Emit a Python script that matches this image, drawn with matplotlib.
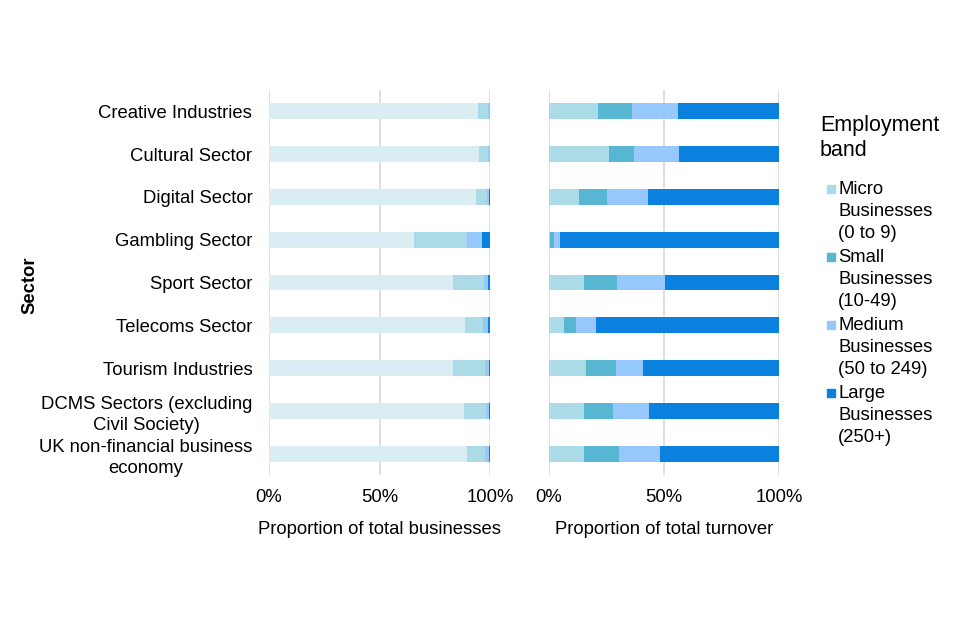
import matplotlib.pyplot as plt
import numpy as np
from matplotlib.patches import Rectangle

plt.rcParams['font.family'] = ['Liberation Sans', 'DejaVu Sans']

sectors = ["Creative Industries", "Cultural Sector", "Digital Sector",
           "Gambling Sector", "Sport Sector", "Telecoms Sector",
           "Tourism Industries", "DCMS Sectors (excluding\nCivil Society)",
           "UK non-financial business\neconomy"]
bands = ["Micro\nBusinesses\n(0 to 9)", "Small\nBusinesses\n(10-49)",
         "Medium\nBusinesses\n(50 to 249)", "Large\nBusinesses\n(250+)"]

# share of businesses (%), by band
biz_micro = [94.6, 95.2, 93.7, 65.4, 83.4, 88.6, 83.1, 88.3, 89.5]
biz_small = [4.5, 3.9, 4.8, 24.1, 13.9, 8.4, 14.5, 9.9, 8.4]
biz_medium = [0.7, 0.7, 1.2, 6.9, 1.8, 2.1, 1.8, 1.5, 1.5]
biz_large = [0.2, 0.2, 0.3, 3.6, 0.9, 0.9, 0.6, 0.3, 0.6]

# share of turnover (%), by band
turn_micro = [21.5, 25.9, 13.1, 0.6, 15.1, 6.7, 16.3, 15.1, 15.4]
turn_small = [14.8, 11.0, 11.9, 1.4, 14.3, 4.9, 12.8, 12.8, 15.1]
turn_medium = [19.8, 19.5, 18.0, 2.7, 21.2, 8.7, 11.9, 15.7, 17.8]
turn_large = [43.9, 43.6, 57.0, 95.3, 49.4, 79.7, 59.0, 56.4, 51.7]

colors = ["#abdbe7", "#57b6d2", "#96c8fc", "#0a81de"]
left_colors = ["#d9edf3", "#abdbe7", "#96c8fc", "#0a81de"]

FS = 13.3
W, H = 960, 640

fig = plt.figure(figsize=(9.6, 6.4), dpi=100)
ax1 = fig.add_axes([269 / W, 1 - 475 / H, 221 / W, 385 / H])
ax2 = fig.add_axes([549 / W, 1 - 475 / H, 230 / W, 385 / H])

y = np.arange(len(sectors))


def draw(ax, series, cols, xlabel):
    left = np.zeros(len(sectors))
    for vals, c in zip(series, cols):
        ax.barh(y, vals, left=left, height=0.37, color=c, zorder=3)
        left += np.array(vals)
    ax.set_xlim(0, 100)
    ax.set_ylim(len(sectors) - 0.5, -0.5)
    ax.set_xticks([0, 50, 100])
    ax.set_xticklabels(["0%", "50%", "100%"], fontsize=FS)
    ax.grid(axis="x", color="#d9d9d9", linewidth=1.2, zorder=0)
    for s in ax.spines.values():
        s.set_visible(False)
    ax.tick_params(length=0, pad=10)
    ax.set_xlabel(xlabel, fontsize=FS, labelpad=11)


draw(ax1, [biz_micro, biz_small, biz_medium, biz_large], left_colors,
     "Proportion of total businesses")
draw(ax2, [turn_micro, turn_small, turn_medium, turn_large], colors,
     "Proportion of total turnover")

ax1.set_yticks(y)
ax1.set_yticklabels(sectors, fontsize=FS, ha="right", multialignment="center",
                    linespacing=1.3)
ax1.tick_params(axis="y", pad=12)
ax2.set_yticks([])
fig.text(30 / W, 1 - 285 / H, "Sector", rotation=90, fontsize=FS,
         fontweight="bold", ha="center", va="center")

# legend, laid out by hand: swatch next to the first line of each entry
fig.text(820 / W, 1 - 125 / H, "Employment", fontsize=15.5, va="center")
fig.text(820 / W, 1 - 150 / H, "band", fontsize=15.5, va="center")
ypos = 189
for label, c in zip(bands, colors):
    fig.patches.append(Rectangle((827 / W, 1 - (ypos + 4) / H), 8 / W, 8 / H,
                                 transform=fig.transFigure, color=c))
    for line in label.split("\n"):
        fig.text(838 / W, 1 - ypos / H, line, fontsize=FS, va="center")
        ypos += 22
    ypos += 2

fig.savefig("out.png", dpi=100)
